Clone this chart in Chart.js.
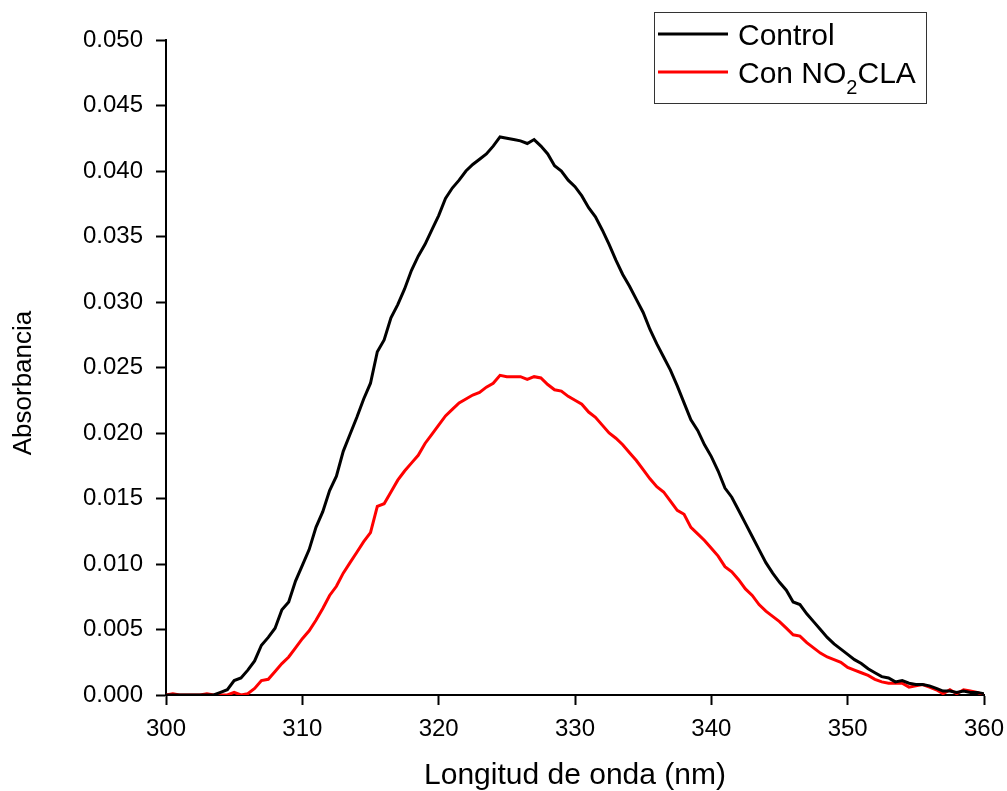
<!DOCTYPE html>
<html>
<head>
<meta charset="utf-8">
<title>Absorbancia</title>
<script src="https://cdn.jsdelivr.net/npm/chart.js@4/dist/chart.umd.min.js"></script>
<style>
  html, body { margin: 0; padding: 0; background: #fff; }
  canvas { display: block; }
</style>
</head>
<body>
<canvas id="spectrumChart" width="1007" height="791"></canvas>
<script>
// Wavelength grid (nm), one reading every 0.5 nm
const wavelengths = [
  300, 300.5, 301, 301.5, 302, 302.5, 303, 303.5, 304, 304.5,
  305, 305.5, 306, 306.5, 307, 307.5, 308, 308.5, 309, 309.5,
  310, 310.5, 311, 311.5, 312, 312.5, 313, 313.5, 314, 314.5,
  315, 315.5, 316, 316.5, 317, 317.5, 318, 318.5, 319, 319.5,
  320, 320.5, 321, 321.5, 322, 322.5, 323, 323.5, 324, 324.5,
  325, 325.5, 326, 326.5, 327, 327.5, 328, 328.5, 329, 329.5,
  330, 330.5, 331, 331.5, 332, 332.5, 333, 333.5, 334, 334.5,
  335, 335.5, 336, 336.5, 337, 337.5, 338, 338.5, 339, 339.5,
  340, 340.5, 341, 341.5, 342, 342.5, 343, 343.5, 344, 344.5,
  345, 345.5, 346, 346.5, 347, 347.5, 348, 348.5, 349, 349.5,
  350, 350.5, 351, 351.5, 352, 352.5, 353, 353.5, 354, 354.5,
  355, 355.5, 356, 356.5, 357, 357.5, 358, 358.5, 359, 359.5,
  360
];

// Control sample
const controlAbs = [
  0, 0, 0, 0, 0, 0, 0, 0, 0.0002, 0.0004,
  0.0011, 0.0013, 0.0019, 0.0026, 0.0038, 0.0044, 0.0051, 0.0065, 0.0071, 0.0087,
  0.0099, 0.0111, 0.0128, 0.0140, 0.0156, 0.0167, 0.0186, 0.0199, 0.0212, 0.0226,
  0.0238, 0.0262, 0.0271, 0.0288, 0.0298, 0.0310, 0.0324, 0.0335, 0.0344, 0.0355,
  0.0366, 0.0379, 0.0387, 0.0393, 0.0400, 0.0405, 0.0409, 0.0413, 0.0419, 0.0426,
  0.0425, 0.0424, 0.0423, 0.0421, 0.0424, 0.0419, 0.0413, 0.0404, 0.0400, 0.0393,
  0.0388, 0.0381, 0.0372, 0.0365, 0.0355, 0.0344, 0.0332, 0.0321, 0.0312, 0.0302,
  0.0292, 0.0279, 0.0268, 0.0258, 0.0248, 0.0236, 0.0223, 0.0210, 0.0202, 0.0191,
  0.0182, 0.0171, 0.0158, 0.0151, 0.0141, 0.0131, 0.0121, 0.0111, 0.0101, 0.0093,
  0.0086, 0.0080, 0.0071, 0.0069, 0.0062, 0.0056, 0.0050, 0.0044, 0.0039, 0.0035,
  0.0031, 0.0027, 0.0024, 0.0020, 0.0017, 0.0014, 0.0013, 0.0010, 0.0011, 0.0009,
  0.0008, 0.0008, 0.0007, 0.0005, 0.0003, 0.0003, 0.0002, 0.0003, 0.0002, 0.0002,
  0.0001
];

// Sample treated with NO2CLA
const no2claAbs = [
  0, 0.0001, 0, 0, 0, 0, 0.0001, 0, 0, 0,
  0.0002, 0, 0.0001, 0.0005, 0.0011, 0.0012, 0.0018, 0.0024, 0.0029, 0.0036,
  0.0043, 0.0049, 0.0057, 0.0066, 0.0076, 0.0083, 0.0093, 0.0101, 0.0109, 0.0117,
  0.0124, 0.0144, 0.0146, 0.0155, 0.0164, 0.0171, 0.0177, 0.0183, 0.0192, 0.0199,
  0.0206, 0.0213, 0.0218, 0.0223, 0.0226, 0.0229, 0.0231, 0.0235, 0.0238, 0.0244,
  0.0243, 0.0243, 0.0243, 0.0241, 0.0243, 0.0242, 0.0237, 0.0233, 0.0232, 0.0228,
  0.0225, 0.0222, 0.0216, 0.0212, 0.0206, 0.0200, 0.0196, 0.0191, 0.0185, 0.0179,
  0.0172, 0.0165, 0.0159, 0.0155, 0.0148, 0.0141, 0.0138, 0.0128, 0.0123, 0.0118,
  0.0112, 0.0106, 0.0098, 0.0094, 0.0088, 0.0081, 0.0076, 0.0069, 0.0064, 0.0060,
  0.0056, 0.0051, 0.0046, 0.0045, 0.0040, 0.0036, 0.0032, 0.0029, 0.0027, 0.0025,
  0.0021, 0.0019, 0.0017, 0.0015, 0.0012, 0.0010, 0.0009, 0.0009, 0.0009, 0.0006,
  0.0007, 0.0008, 0.0006, 0.0004, 0.0001, 0.0004, 0.0001, 0.0004, 0.0003, 0.0002,
  0
];

const xTicks = [300, 310, 320, 330, 340, 350, 360];
const yTicks = [0, 0.005, 0.010, 0.015, 0.020, 0.025, 0.030, 0.035, 0.040, 0.045, 0.050];

const yTitle = 'Absorbancia';

// legend text split into normal / subscript pieces
const legendEntries = [
  { color: '#000000', parts: [['Control', false]] },
  { color: '#ff0000', parts: [['Con NO', false], ['2', true], ['CLA', false]] }
];

const FONT = "'Liberation Sans', Arial, Helvetica, sans-serif";

function toPoints(values) {
  return wavelengths.map((w, i) => ({ x: w, y: values[i] }));
}

// keep the plot box fixed: no extra room for overhanging edge labels
function noEdgePadding(scale) {
  scale.paddingLeft = 0;
  scale.paddingRight = 0;
  scale.paddingTop = 0;
  scale.paddingBottom = 0;
}

// Y title sits a bit below the middle of the axis, so it is drawn by hand
const yTitlePlugin = {
  id: 'yTitle',
  afterDraw(chart) {
    const ctx = chart.ctx;
    ctx.save();
    ctx.translate(24, 383);
    ctx.rotate(-Math.PI / 2);
    ctx.font = '26px ' + FONT;
    ctx.fillStyle = '#000';
    ctx.textAlign = 'center';
    ctx.textBaseline = 'middle';
    ctx.fillText(yTitle, 0, 0);
    ctx.restore();
  }
};

// Boxed legend in the upper right, drawn by hand so the subscript works
const boxLegend = {
  id: 'boxLegend',
  afterDraw(chart) {
    const ctx = chart.ctx;
    const box = { x: 654.5, y: 12.5, w: 272, h: 91 };
    ctx.save();
    ctx.fillStyle = '#ffffff';
    ctx.fillRect(box.x, box.y, box.w, box.h);
    ctx.strokeStyle = '#333333';
    ctx.lineWidth = 1;
    ctx.strokeRect(box.x, box.y, box.w, box.h);

    legendEntries.forEach((entry, i) => {
      const lineY = 34 + i * 38;
      ctx.strokeStyle = entry.color;
      ctx.lineWidth = 3;
      ctx.beginPath();
      ctx.moveTo(658, lineY);
      ctx.lineTo(728, lineY);
      ctx.stroke();

      let tx = 738;
      const baseY = lineY + 11;
      ctx.fillStyle = '#000000';
      ctx.textBaseline = 'alphabetic';
      ctx.textAlign = 'left';
      entry.parts.forEach(([txt, sub]) => {
        ctx.font = (sub ? '20px ' : '30px ') + FONT;
        ctx.fillText(txt, tx, sub ? baseY + 11 : baseY);
        tx += ctx.measureText(txt).width;
      });
    });
    ctx.restore();
  }
};

new Chart(document.getElementById('spectrumChart'), {
  type: 'line',
  data: {
    datasets: [
      {
        label: 'Control',
        data: toPoints(controlAbs),
        borderColor: '#000000',
        borderWidth: 3,
        pointRadius: 0,
        tension: 0
      },
      {
        label: 'Con NO2CLA',
        data: toPoints(no2claAbs),
        borderColor: '#ff0000',
        borderWidth: 3,
        pointRadius: 0,
        tension: 0
      }
    ]
  },
  options: {
    responsive: false,
    animation: false,
    layout: { padding: { top: 40, right: 23, left: 0, bottom: 0 } },
    plugins: {
      legend: { display: false },
      tooltip: { enabled: false }
    },
    scales: {
      x: {
        type: 'linear',
        min: 300,
        max: 360,
        afterBuildTicks: scale => { scale.ticks = xTicks.map(v => ({ value: v })); },
        afterFit: scale => { scale.height = 96; noEdgePadding(scale); },
        ticks: {
          color: '#000',
          padding: 10,
          font: { family: FONT, size: 24 },
          maxRotation: 0
        },
        grid: {
          drawOnChartArea: false,
          tickLength: 10,
          tickWidth: 2,
          tickColor: '#000'
        },
        border: { display: true, color: '#000', width: 2 },
        title: {
          display: true,
          text: 'Longitud de onda (nm)',
          color: '#000',
          font: { family: FONT, size: 30, lineHeight: 1 },
          padding: { top: 0, bottom: 0 }
        }
      },
      y: {
        min: 0,
        max: 0.05,
        afterBuildTicks: scale => { scale.ticks = yTicks.map(v => ({ value: v })); },
        afterFit: scale => { scale.width = 166; noEdgePadding(scale); },
        ticks: {
          color: '#000',
          padding: 13,
          font: { family: FONT, size: 24 },
          callback: v => v.toFixed(3)
        },
        grid: {
          drawOnChartArea: false,
          tickLength: 10,
          tickWidth: 2,
          tickColor: '#000'
        },
        border: { display: true, color: '#000', width: 2 },
        title: { display: false }
      }
    }
  },
  plugins: [yTitlePlugin, boxLegend]
});
</script>
</body>
</html>
